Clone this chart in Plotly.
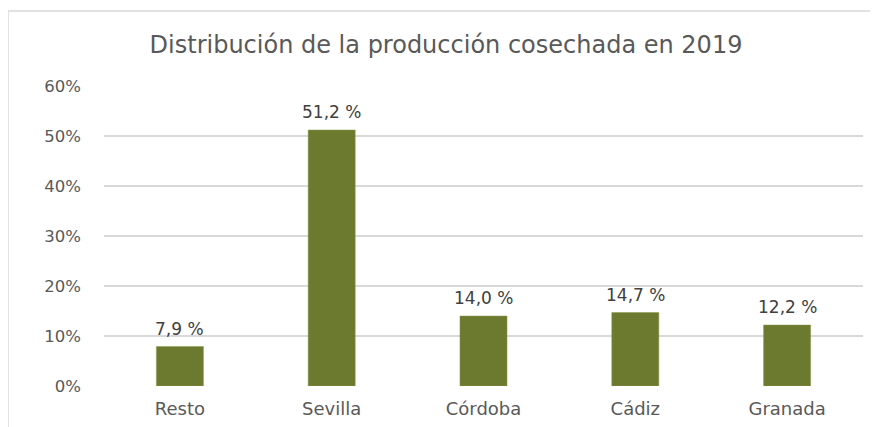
import plotly.graph_objects as go

categories = ["Resto", "Sevilla", "Córdoba", "Cádiz", "Granada"]
values = [7.9, 51.2, 14.0, 14.7, 12.2]
labels = ["7,9 %", "51,2 %", "14,0 %", "14,7 %", "12,2 %"]
tick_vals = [0, 10, 20, 30, 40, 50, 60]
tick_text = ["0%", "10%", "20%", "30%", "40%", "50%", "60%"]

fig = go.Figure(go.Bar(
    x=categories, y=values,
    marker=dict(color="#6B7A2F", line=dict(color="#8A9A4A", width=0.5)),
    cliponaxis=False, width=0.31,
))

for c, v, t in zip(categories, values, labels):
    fig.add_annotation(x=c, y=v, text=t, showarrow=False, yanchor="bottom",
                       yshift=6, font=dict(size=17, color="#404040"))

# page has an 8px body margin, so the figure is placed at (8, 8)
OX, OY = 8, 8
W0, H0 = 759, 300
L, T = 104 - OX, 86 - OY
fig.update_layout(
    width=878 - OX, height=427 - OY,
    margin=dict(l=L, r=15, t=T, b=41),
    paper_bgcolor="white", plot_bgcolor="white",
    font=dict(family="DejaVu Sans, sans-serif", color="#595959"),
    title=dict(text="Distribución de la producción cosechada en 2019",
               x=(446 - OX) / (878 - OX), xanchor="center",
               y=1 - (45 - OY) / (427 - OY), yanchor="middle",
               font=dict(size=24, color="#595959")),
    xaxis=dict(showgrid=False, showline=False, ticks="", automargin=False,
               ticklabelstandoff=10,
               tickfont=dict(size=18, color="#595959")),
    yaxis=dict(range=[0, 60], tickvals=tick_vals, ticktext=tick_text, automargin=False,
               showgrid=True, gridcolor="#D9D9D9", gridwidth=1.5, zeroline=False,
               ticks="", ticklen=0, tickfont=dict(size=16.5, color="#595959"),
               ticklabelstandoff=22),
    showlegend=False,
    shapes=[
        dict(type="line", xref="paper", yref="paper", x0=(8 - 104) / W0, x1=(878 - 104) / W0,
             y0=(386 - 11) / H0, y1=(386 - 11) / H0, line=dict(color="#D9D9D9", width=1.5)),
        dict(type="line", xref="paper", yref="paper", x0=(8 - 104) / W0, x1=(8 - 104) / W0,
             y0=(386 - 11) / H0, y1=(386 - 430) / H0, line=dict(color="#D9D9D9", width=1.5)),
    ],
)
fig.write_html("out.html")
